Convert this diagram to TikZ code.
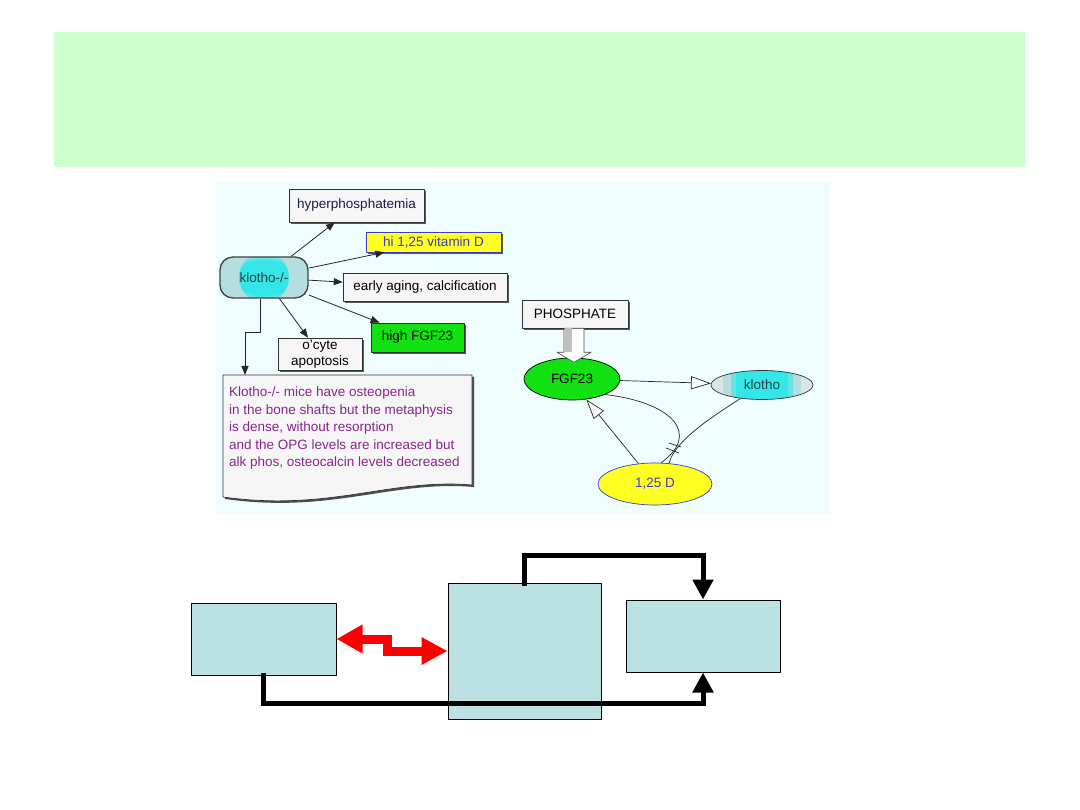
\documentclass[tikz,border=0pt]{standalone}
\usepackage{fontspec}
\setmainfont{Liberation Sans}
\usetikzlibrary{arrows.meta,shapes.geometric,shadows}

\definecolor{bandgreen}{HTML}{CCFFCC}
\definecolor{panelbg}{HTML}{EFFDFF}
\definecolor{boxgray}{HTML}{F6F6F6}
\definecolor{vityellow}{HTML}{FFFF22}
\definecolor{vitblue}{HTML}{3B3BC4}
\definecolor{fgfgreen}{HTML}{11E011}
\definecolor{notepurple}{HTML}{8A2590}
\definecolor{blockfill}{HTML}{BCE1E2}
\definecolor{kcyan}{HTML}{35E6E8}
\definecolor{klight}{HTML}{B4DEDF}
\definecolor{kgray}{HTML}{DCE6E6}
\definecolor{ktext}{HTML}{1C4646}
\definecolor{navytext}{HTML}{1A1A48}

\pgfdeclareradialshading{kspot}{\pgfpoint{0bp}{0bp}}{color(0bp)=(kcyan); color(17bp)=(kcyan); color(25bp)=(klight); color(50bp)=(klight)}

\begin{document}
\begin{tikzpicture}[x=1pt,y=-1pt,line join=round,
    font=\fontsize{13.5}{16}\selectfont,
    box/.style={draw=black!80,fill=boxgray,line width=0.6pt,inner ysep=1pt,
      drop shadow={shadow xshift=2pt,shadow yshift=-2pt,fill=black!65,opacity=1}},
    vitbox/.style={box,draw=vitblue,fill=vityellow,text=vitblue},
    capsule/.style={rounded corners=13pt,draw=black!75,line width=1.3pt,fill=klight,
      text=ktext,minimum width=88pt,minimum height=41pt,
      path picture={\shade[shading=kspot] (path picture bounding box.center) circle (25pt);}},
    bandfill/.style={fill=kgray,
      path picture={
        \fill[klight] ([xshift=-39pt]path picture bounding box.south) rectangle ([xshift=39pt]path picture bounding box.north);
        \fill[kcyan!60!klight] ([xshift=-31pt]path picture bounding box.south) rectangle ([xshift=31pt]path picture bounding box.north);
        \fill[kcyan] ([xshift=-26pt]path picture bounding box.south) rectangle ([xshift=26pt]path picture bounding box.north);}},
    oval/.style={ellipse,inner sep=0pt,line width=0.7pt},
    blackarrow/.style={draw=black!85,line width=0.8pt,-{Triangle[length=9pt,width=7pt]}},
    openarrow/.style={draw=black!85,line width=0.7pt,-{Triangle[open,length=20pt,width=13pt,fill=white]}},
    loopline/.style={draw=black!85,line width=0.7pt},
    notetext/.style={anchor=north west,align=left,text=notepurple,
      font=\fontsize{13.5}{17.5}\selectfont,inner xsep=6pt,inner ysep=12pt},
    block/.style={draw=black,fill=blockfill,line width=1pt},
    feedback/.style={line width=5pt,line join=miter,-{Triangle[length=20pt,width=20pt]}},
    zigarrow/.style={red,line width=9pt,line join=miter,
      {Triangle[length=26pt,width=27pt]}-{Triangle[length=26pt,width=26pt]}}]
  \fill[white] (0,0) rectangle (1080,810);
  \useasboundingbox (0,0) rectangle (1080,810);
  \fill[bandgreen] (54,32) rectangle (1025,167);
  \fill[panelbg] (216,182) rectangle (830,514);

  % klotho knockout
  \node[box,text=navytext,minimum width=135pt,minimum height=33pt] (hyper) at (356.5,205.5) {hyperphosphatemia};
  \node[vitbox,minimum width=135pt,minimum height=20pt] (vitd) at (433.5,242) {hi 1,25 vitamin D};
  \node[capsule] (kl) at (264,277.5) {klotho-/-};
  \node[box,minimum width=164pt,minimum height=28pt] (aging) at (425,287) {early aging, calcification};
  \node[box,fill=fgfgreen,minimum width=93pt,minimum height=29pt] (hifgf) at (417.5,337.5) {high FGF23};
  \node[box,align=center,minimum width=84pt,minimum height=32pt] (ocyte) at (320,354) {o'cyte\\apoptosis};

  \filldraw[fill=boxgray,draw=black!80,line width=0.7pt,
    drop shadow={shadow xshift=2pt,shadow yshift=-2pt,fill=black!70,opacity=1}]
    (223,375) -- (472,375) -- (472,485) .. controls (390,478) and (330,512) .. (223,497) -- cycle;
  \node[notetext] (note) at (223,375) {Klotho-/- mice have osteopenia\\in the bone shafts but the metaphysis\\is dense, without resorption\\and the OPG levels are increased but\\alk phos, osteocalcin levels decreased};

  \draw[blackarrow] (kl) -- (hyper);
  \draw[blackarrow] (kl) -- (vitd);
  \draw[blackarrow] (kl) -- (aging);
  \draw[blackarrow] (kl) -- (hifgf);
  \draw[blackarrow] (kl) -- (ocyte);
  \draw[blackarrow] ([xshift=-4pt]kl.south) -- ++(0,34) -| ([xshift=22pt]note.north west);

  % FGF23 loop
  \node[box,minimum width=106pt,minimum height=28pt] (phos) at (575,314) {PHOSPHATE};
  \node[oval,draw=black,fill=fgfgreen,minimum width=96pt,minimum height=42pt] (fgf) at (572,379) {FGF23};
  \node[oval,draw=black!80,bandfill,text=ktext,minimum width=102pt,minimum height=29pt] (klo) at (762,385) {klotho};
  \node[oval,draw=vitblue,fill=vityellow,text=vitblue,minimum width=114pt,minimum height=42pt] (d) at (655,484) {1,25 D};

  \filldraw[draw=black!70,line width=0.6pt,fill=white]
    ([xshift=-11pt]phos.south) -- ++(0,24) -- ++(-7,0) -- ++(17,10) -- ++(17,-10) -- ++(-7,0) -- ++(0,-24) -- cycle;
  \fill[black!25] ([xshift=-10.5pt]phos.south) rectangle ++(7,24);
  \draw[openarrow] (fgf) -- (klo);
  \draw[openarrow] (d.129) -- (fgf.-55);
  \draw[loopline] (fgf.-25) .. controls (675,403) and (700,435) .. (d.74);
  \draw[loopline] (klo.-148) .. controls (715,415) and (675,440) .. (d.56);
  \draw[loopline] (669,443) -- (681,447);
  \draw[loopline] (666,448) -- (679,453);

  % blocks
  \node[block,minimum width=145pt,minimum height=72pt] (lbox) at (263.5,639) {};
  \node[block,minimum width=153pt,minimum height=136pt] (mbox) at (524.5,651) {};
  \node[block,minimum width=154pt,minimum height=72pt] (rbox) at (703,636) {};
  \draw[feedback] ([yshift=-3pt]mbox.north) -- ++(0,-30) -| (rbox.north);
  \draw[feedback] ([yshift=3pt]lbox.south) -- ++(0,31) -| (rbox.south);
  \draw[zigarrow] (lbox.east) -- ++(50.5,0) |- (mbox.west);
\end{tikzpicture}
\end{document}
